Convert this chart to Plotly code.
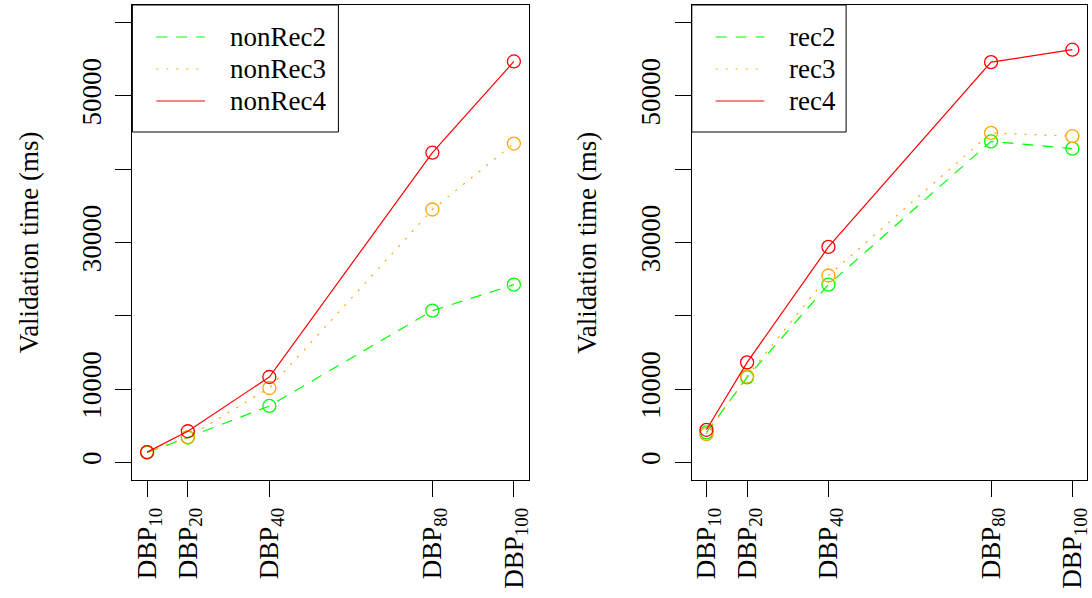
import plotly.graph_objects as go

# ---- data ----
dbp_sizes = [10, 20, 40, 80, 100]
x_labels = ["DBP<sub>10</sub>", "DBP<sub>20</sub>", "DBP<sub>40</sub>", "DBP<sub>80</sub>", "DBP<sub>100</sub>"]

nonrec_names = ["nonRec2", "nonRec3", "nonRec4"]
nonRec2 = [1350, 3400, 7700, 20700, 24250]
nonRec3 = [1400, 3450, 10150, 34500, 43500]
nonRec4 = [1400, 4250, 11650, 42250, 54700]

rec_names = ["rec2", "rec3", "rec4"]
rec2 = [4100, 11600, 24250, 43800, 42800]
rec3 = [3850, 11750, 25500, 44950, 44500]
rec4 = [4450, 13650, 29400, 54600, 56300]

y_tickvals = [0, 10000, 20000, 30000, 40000, 50000, 60000]
y_ticktext = ["0", "10000", "", "30000", "", "50000", ""]

colors = ["#00FF00", "#FFA500", "#FF0000"]
dashes = ["11px,9px", "2px,8px", "solid"]

FONT = "Liberation Serif"
FS = 27

fig = go.Figure()

panels = [
    ("x", "y", nonrec_names, [nonRec2, nonRec3, nonRec4]),
    ("x2", "y2", rec_names, [rec2, rec3, rec4]),
]
for xa, ya, names, series in panels:
    for name, vals, c, d in zip(names, series, colors, dashes):
        fig.add_trace(go.Scatter(
            x=dbp_sizes, y=vals, xaxis=xa, yaxis=ya, name=name,
            mode="lines+markers", showlegend=False,
            line=dict(color=c, width=1.2, dash=d),
            marker=dict(symbol="circle-open", size=13, color=c, line=dict(width=1.3, color=c)),
        ))

W, H = 1092, 598
def px_x(p):
    return p / W
def px_y(p):
    return (H - p) / H

axis_common = dict(
    showline=True, linecolor="black", linewidth=1, mirror=True,
    ticks="outside", ticklen=16, tickcolor="black", tickwidth=1,
    showgrid=False, zeroline=False,
    tickfont=dict(family=FONT, size=FS, color="black"),
)
xaxis_common = dict(axis_common, range=[6.4, 103.6], tickvals=dbp_sizes, ticktext=x_labels, tickangle=-90)
yaxis_common = dict(axis_common, range=[-2400, 62400], tickvals=y_tickvals, ticktext=y_ticktext,
                    tickangle=-90, ticklabelstandoff=4)

fig.update_layout(
    width=W, height=H,
    margin=dict(l=0, r=0, t=0, b=0),
    paper_bgcolor="white", plot_bgcolor="white",
    showlegend=False,
    xaxis=dict(xaxis_common, domain=[px_x(132), px_x(530)], anchor="y"),
    yaxis=dict(yaxis_common, domain=[px_y(480), px_y(5)], anchor="x"),
    xaxis2=dict(xaxis_common, domain=[px_x(694), px_x(1091)], anchor="y2"),
    yaxis2=dict(yaxis_common, domain=[px_y(480), px_y(5)], anchor="x2"),
)

# axis titles
for xp in [28, 588]:
    fig.add_annotation(text="Validation time (ms)", xref="paper", yref="paper",
                       x=px_x(xp), y=px_y(242.5), textangle=-90, showarrow=False,
                       xanchor="center", yanchor="middle",
                       font=dict(family=FONT, size=FS, color="black"))

# manual legends (R style)
legend_specs = [("x", "y", nonrec_names, 0.52), ("x2", "y2", rec_names, 0.3904)]
line_ys = [0.9326, 0.8653, 0.7979]
for xa, ya, names, box_w in legend_specs:
    xr, yr = f"{xa} domain", f"{ya} domain"
    fig.add_shape(type="rect", xref=xr, yref=yr, x0=0, x1=box_w, y0=0.7326, y1=1,
                  line=dict(color="black", width=1), fillcolor="white", layer="below")
    for name, c, d, ly in zip(names, colors, dashes, line_ys):
        fig.add_shape(type="line", xref=xr, yref=yr, x0=0.0603, x1=0.1834, y0=ly, y1=ly,
                      line=dict(color=c, width=1.2, dash=d))
        fig.add_annotation(text=name, xref=xr, yref=yr, x=0.2412, y=ly, showarrow=False,
                           xanchor="left", yanchor="middle",
                           font=dict(family=FONT, size=FS, color="black"))

fig.write_html("out.html", config={"displayModeBar": False},
               post_script="document.body.style.margin='0';document.body.style.overflow='hidden';")
